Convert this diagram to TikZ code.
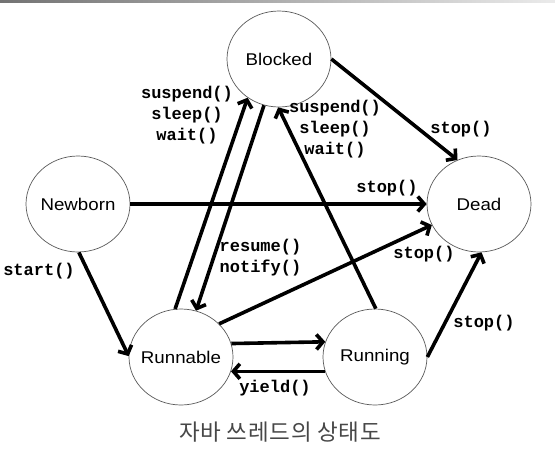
\documentclass[tikz,border=0pt]{standalone}
\usepackage{fontspec}
\setmainfont{Liberation Sans}
\newfontfamily\sansf{Liberation Sans}[FakeStretch=1.1]
\newfontfamily\monof{Liberation Mono}
\newfontfamily\cjkf{Noto Sans CJK KR}[LetterSpace=3]
\usetikzlibrary{shapes.geometric,arrows.meta}
\begin{document}
\begin{tikzpicture}[x=1pt,y=-1pt,
  state/.style={ellipse,draw=black!65,line width=0.7pt,minimum width=104pt,minimum height=96pt,inner sep=0pt,font=\sansf\fontsize{17}{18}\selectfont},
  trans/.style={line width=3.6pt,-{Straight Barb[length=6.5pt,width=15pt]}},
  lbl/.style={font=\monof\bfseries\fontsize{17}{21}\selectfont,inner sep=0pt,align=center}]
\useasboundingbox (0,0) rectangle (555,456);
\shade[left color=black!55,right color=black!8] (0,0) rectangle (555,2);
% states
\node[state] (blk) at (279,59) {\makebox[0pt]{Blocked}};
\node[state] (nb) at (78,204) {\makebox[0pt]{Newborn}};
\node[state] (dead) at (479,204) {\makebox[0pt]{Dead}};
\node[state] (rb) at (181,357) {\makebox[0pt]{Runnable}};
\node[state] (rn) at (375,357) {\makebox[0pt]{Running}};
% transitions
\draw[trans] (nb.east) -- (dead.west);
\draw[trans] (nb.-89) -- (rb.179);
\draw[trans] (rb.97) -- (blk.231.5);
\draw[trans] (blk.252.3) -- (rb.72.4);
\draw[trans] (rn.89) -- (blk.269);
\draw[trans] (blk.east) -- (dead.116.6);
\draw[trans] (rb.41.4) -- (dead.204.2);
\draw[trans] (rb.15.4) -- (rn.163.6);
\draw[trans] (rn.196.4) -- (rb.344.6);
\draw[trans] (rn.east) -- (dead.273);
% labels
\node[lbl] (l1) at (387,188) {stop()};
\node[lbl] (l2) at (39,271) {start()};
\node[lbl] (l3) at (187,115) {suspend()\\sleep()\\wait()};
\node[lbl] (l4) at (335,129) {suspend()\\sleep()\\wait()};
\node[lbl] (l5) at (260.5,257.5) {resume()\\notify()};
\node[lbl] (l6) at (461,129) {stop()};
\node[lbl] (l7) at (424,254) {stop()};
\node[lbl] (l8) at (484,323) {stop()};
\node[lbl] (l9) at (275,388) {yield()};
\node[text=black!72,font=\cjkf\fontsize{22.5}{26}\selectfont] (cap) at (280,432) {자바 쓰레드의 상태도};
\end{tikzpicture}
\end{document}
